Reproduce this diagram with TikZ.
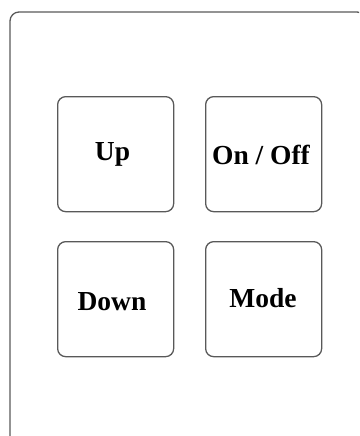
\documentclass[tikz,border=0pt]{standalone}
\usepackage{fontspec}
\setmainfont{Liberation Serif}
\begin{document}
\begin{tikzpicture}[x=1pt,y=-1pt,
  frame/.style={draw=black!65,line width=1.3pt,rounded corners=9pt},
  keybox/.style={draw=black!65,line width=1.3pt,rounded corners=8pt,minimum width=116pt,minimum height=115pt,inner sep=0pt,anchor=north west},
  keytext/.style={font=\fontsize{27.5}{32}\selectfont\bfseries,inner sep=0pt}]
\useasboundingbox (0,0) rectangle (359,436);
\clip (0,0) rectangle (359,436);
\draw[frame] (10,12) rectangle (366,460);
\node[keybox] (up) at (57,96) {};
\node[keybox] (onoff) at (205,96) {};
\node[keybox] (down) at (57,241) {};
\node[keybox] (mode) at (205,241) {};
\node[keytext] (tup) at (112.5,154) {Up};
\node[keytext] (tonoff) at (261,155) {On / Off};
\node[keytext] (tdown) at (112,302) {Down};
\node[keytext] (tmode) at (263,298) {Mode};
\end{tikzpicture}
\end{document}
